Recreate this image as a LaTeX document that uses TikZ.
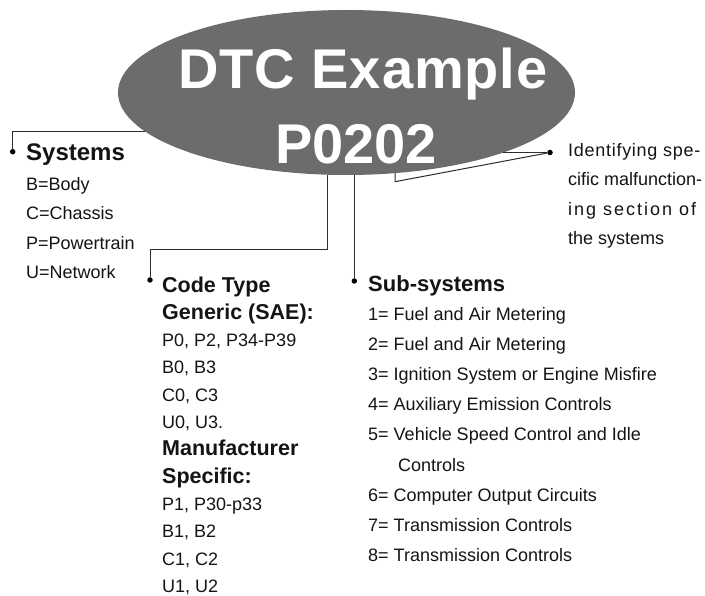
\documentclass[tikz,border=0pt]{standalone}
\usepackage{fontspec}
\setmainfont{Liberation Sans}
\usetikzlibrary{shapes.geometric}
\definecolor{ellgray}{RGB}{108,108,108}
\definecolor{linegray}{RGB}{45,45,45}
\definecolor{txt}{RGB}{20,20,20}
\newcommand\cthead[1]{{\bfseries\fontsize{21.5}{27.3}\selectfont #1}}
\begin{document}
\begin{tikzpicture}[x=1pt,y=-1pt,
  conn/.style={draw=linegray,line width=1pt},
  dotmark/.style={circle,fill=black,inner sep=0pt,minimum size=5.5pt},
  title/.style={anchor=base west,inner sep=0pt,text=txt,font=\bfseries\fontsize{22}{26}\selectfont},
  body/.style={anchor=base west,inner sep=0pt,align=left,text=txt},
  big/.style={anchor=base,inner sep=0pt,text=white,font=\bfseries\fontsize{56}{60}\selectfont}]
\useasboundingbox[fill=white] (0,0) rectangle (705,596);
\node[ellipse,fill=ellgray,minimum width=457pt,minimum height=165pt,inner sep=0pt,outer sep=0pt] (ell) at (346.5,92.5) {};
\node[big] (dtc) at (363,88.3) {\addfontfeature{LetterSpace=1.6}DTC Example};
\node[big] (code) at (356,163.3) {P0202};
% dots and bends
\node[dotmark] (sysdot) at (12.7,151.7) {};
\node[dotmark] (ctdot) at (150,280) {};
\node[dotmark] (subdot) at (354.3,281) {};
\node[dotmark] (iddot) at (550,152.5) {};
\coordinate (ctbend) at (327.3,250);
\coordinate (idbend) at (395,181.7);
% connectors
\draw[conn] (sysdot) |- (ell.191.5);
\draw[conn] (ell.south -| ctbend) -- (ctbend) -| (ctdot);
\draw[conn] (ell.south -| subdot) -- (subdot);
\draw[conn] (iddot) -- (iddot -| ell.339.06);
\draw[conn] (iddot) -- (idbend) -- (idbend |- ell.301.04);
% texts (multi-line nodes: base = baseline of last line)
\node[title,font=\bfseries\fontsize{24}{28}\selectfont] (systitle) at (26,161) {Systems};
\node[body,font=\fontsize{18}{29.3}\selectfont] (syslist) at (26,278.4) {B=Body\\C=Chassis\\P=Powertrain\\U=Network};
\node[body,font=\fontsize{18}{27.3}\selectfont] (ctlist) at (162,592.3) {\cthead{Code Type}\\\cthead{Generic (SAE):}\\P0, P2, P34-P39\\B0, B3\\C0, C3\\U0, U3.\\\cthead{Manufacturer}\\\cthead{Specific:}\\P1, P30-p33\\B1, B2\\C1, C2\\U1, U2};
\node[title] (subtitle) at (368,291.5) {Sub-systems};
\node[body,font=\fontsize{18}{30.2}\selectfont] (sublist) at (368,561.6) {1= Fuel and Air Metering\\2= Fuel and Air Metering\\3= Ignition System or Engine Misfire\\4= Auxiliary Emission Controls\\5= Vehicle Speed Control and Idle\\\hspace*{30pt}Controls\\6= Computer Output Circuits\\7= Transmission Controls\\8= Transmission Controls};
\node[body,font=\fontsize{18}{29.5}\selectfont] (idtext) at (568,245) {{\addfontfeature{LetterSpace=4}Identifying spe-}\\cific malfunction-\\{\addfontfeature{LetterSpace=11}ing section of}\\the systems};
\end{tikzpicture}
\end{document}
